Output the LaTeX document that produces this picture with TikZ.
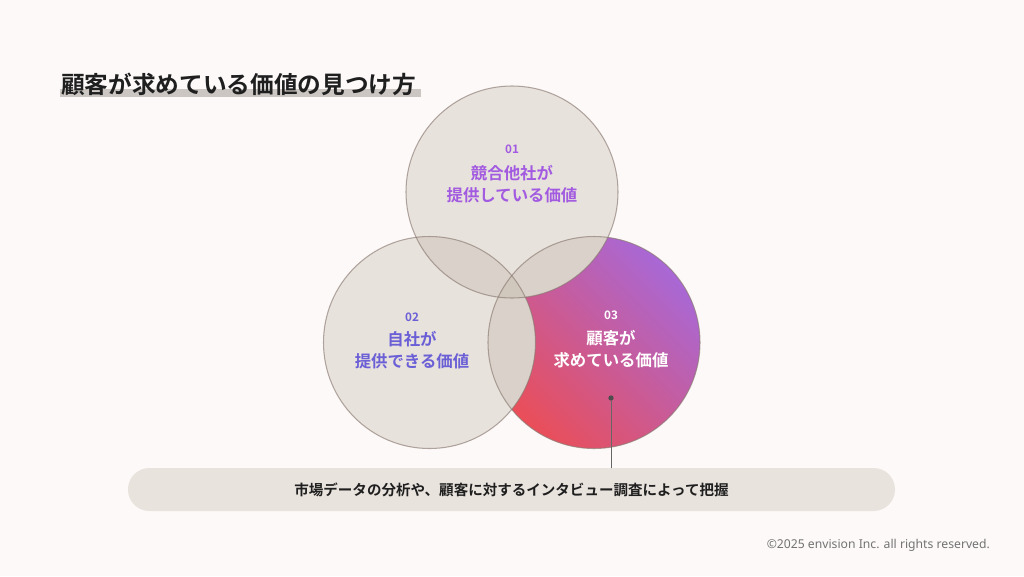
\documentclass[tikz,border=0pt]{standalone}
\usepackage{fontspec}
\newfontfamily\cjk{Noto Sans CJK JP}[BoldFont={Noto Sans CJK JP Bold}]
\newfontfamily\latin{Noto Sans}
\definecolor{bgcol}{HTML}{FCF9F8}
\definecolor{ringfill}{HTML}{BCAEA1}
\definecolor{ringline}{HTML}{8A7A72}
\definecolor{barfill}{HTML}{E9E3DE}
\definecolor{bandcol}{HTML}{CBC6C1}
\definecolor{txtone}{HTML}{A25BE0}
\definecolor{txttwo}{HTML}{6B5FD6}
\definecolor{grred}{HTML}{EA4E58}
\definecolor{grpurple}{HTML}{A868D6}
\begin{document}
\begin{tikzpicture}[x=0.03cm,y=-0.03cm,line join=round,line cap=round,font=\cjk,
  ring/.style={circle,minimum size=6.36cm,inner sep=0pt,fill=ringfill,fill opacity=0.3},
  num/.style={font=\cjk\bfseries\fontsize{10}{12}\selectfont},
  lbl/.style={align=center,font=\cjk\bfseries\fontsize{14}{19}\selectfont},
  pin/.style={circle,fill=black!70,inner sep=0pt,minimum size=4.5pt}]
  \def\r{3.18cm}
  \fill[bgcol] (0,0) rectangle (1024,576);
  \useasboundingbox (0,0) rectangle (1024,576);
  % title
  \fill[bandcol] (60,89) rectangle (421,97);
  \node[anchor=west,inner sep=0pt,font=\cjk\bfseries\fontsize{20.2}{24}\selectfont,text=black!88] (title) at (61,84) {顧客が求めている価値の見つけ方};
  % circles
  \node[ring] (c1) at (512,192) {};
  \node[ring] (c2) at (429.5,342.5) {};
  \node[ring] (c3) at (594,342.5) {};
  \begin{scope}[even odd rule]
    \clip (c3) circle[radius=\r];
    \clip (0,0) rectangle (1024,576) (c1) circle[radius=\r];
    \clip (0,0) rectangle (1024,576) (c2) circle[radius=\r];
    \shade[bottom color=grred,top color=grpurple,shading angle=-45] (c3) circle[radius=\r];
  \end{scope}
  \foreach \c in {c1,c2,c3}\draw[ringline,draw opacity=0.65,line width=0.9pt] (\c) circle[radius=\r];
  % labels
  \node[num,text=txtone] (n1) at (512,149) {01};
  \node[lbl,text=txtone] (l1) at (512,184) {競合他社が\\提供している価値};
  \node[num,text=txttwo] (n2) at (412,317) {02};
  \node[lbl,text=txttwo] (l2) at (412,350) {自社が\\提供できる価値};
  \node[num,text=white] (n3) at (611,315) {03};
  \node[lbl,text=white] (l3) at (611,349) {顧客が\\求めている価値};
  % bar
  \node[fill=barfill,rounded corners=0.64cm,minimum width=23.01cm,minimum height=1.29cm,
    font=\cjk\bfseries\fontsize{12.4}{15}\selectfont,text=black!88] (bar) at (511.5,489.5)
    {市場データの分析や、顧客に対するインタビュー調査によって把握};
  \node[pin] (dot) at (611,398) {};
  \draw[black!60,line width=0.8pt] (dot) -- (dot |- bar.north);
  \node[anchor=east,font=\latin\fontsize{10.4}{12}\selectfont,text=black!55] (copy) at (994,545) {©2025 envision Inc. all rights reserved.};
\end{tikzpicture}
\end{document}
